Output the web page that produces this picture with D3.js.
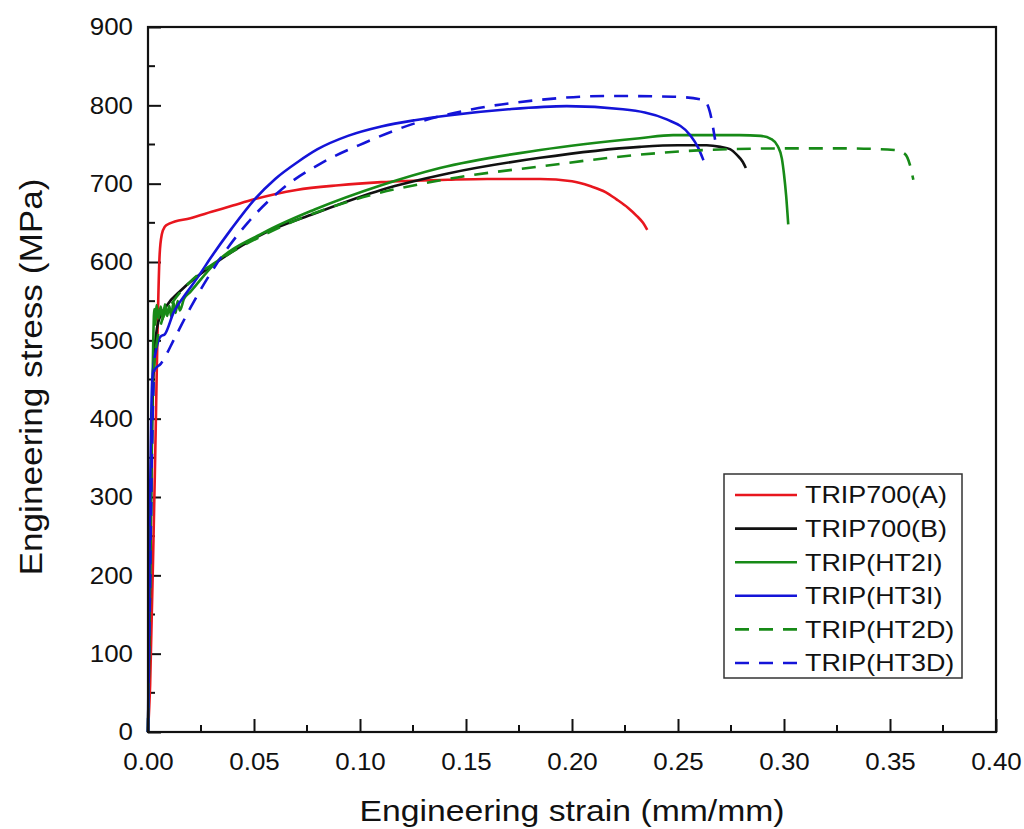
<!DOCTYPE html>
<html>
<head>
<meta charset="utf-8">
<script src="https://cdn.jsdelivr.net/npm/d3@7"></script>
<style>
  body { margin: 0; background: #fff; }
  text { font-family: "Liberation Sans", Arial, sans-serif; fill: #111; }
</style>
</head>
<body>
<div id="chart"></div>
<script>
// series names and values: [strain, stress MPa]
let seriesNames = ["TRIP700(A)", "TRIP700(B)", "TRIP(HT2I)", "TRIP(HT3I)", "TRIP(HT2D)", "TRIP(HT3D)"];

let trip700A = [[0,0],[0.001,60],[0.003,300],[0.0055,610],[0.0065,635],[0.0079,645],[0.01,649],[0.02,656],
  [0.03,664],[0.04,672],[0.05,680],[0.07,692],[0.09,698],[0.11,702],[0.1415,705],[0.16,706],[0.185,706],
  [0.2,703],[0.2085,697],[0.216,689],[0.221,680],[0.2265,669],[0.2305,659],[0.2335,650],[0.2355,641]];

let trip700B = [[0,0],[0.001,200],[0.002,400],[0.003,480],[0.0047,522],[0.009,545],[0.0156,564],[0.0315,598],
  [0.055,637],[0.0786,662],[0.11,692],[0.1415,713],[0.185,733],[0.232,747],[0.25,749],[0.2635,749],
  [0.27,747],[0.2745,744],[0.278,736],[0.2805,728],[0.282,720]];

let tripHT2I = [[0,0],[0.001,200],[0.002,420],[0.003,540],[0.0035,520],[0.004,545],[0.005,528],[0.006,543],
  [0.007,527],[0.008,546],[0.009,531],[0.010,544],[0.011,530],[0.012,549],[0.013,535],[0.014,550],
  [0.015,538],[0.017,553],[0.02,562],[0.0315,598],[0.055,638],[0.0786,667],[0.11,698],[0.1377,720],
  [0.185,743],[0.232,758],[0.2477,762],[0.279,762],[0.289,761],[0.294,757],[0.297,748],[0.299,732],
  [0.300,712],[0.301,685],[0.302,648]];

let tripHT3I = [[0,0],[0.001,300],[0.002,450],[0.004,490],[0.006,505],[0.008,508],[0.012,535],[0.018,560],
  [0.0236,581],[0.03,607],[0.039,641],[0.0503,680],[0.06,706],[0.0708,728],[0.08,744],[0.0943,761],
  [0.11,773],[0.1258,781],[0.1415,787],[0.17,795],[0.1975,799],[0.224,795],[0.2447,782],[0.2557,762],
  [0.2595,746],[0.262,730]];

let tripHT2D = [[0,0],[0.001,180],[0.002,380],[0.003,470],[0.006,520],[0.012,550],[0.02,575],[0.035,605],
  [0.055,635],[0.0943,677],[0.1415,706],[0.185,722],[0.232,737],[0.2635,743],[0.30,745],[0.33,745],
  [0.352,743],[0.357,738],[0.3594,724],[0.361,705]];

let tripHT3D = [[0,0],[0.001,200],[0.002,380],[0.003,462],[0.006,470],[0.0126,503],[0.0203,543],[0.0315,594],
  [0.047,650],[0.0627,692],[0.0816,726],[0.102,752],[0.1258,777],[0.153,795],[0.185,807],[0.2164,812],
  [0.2477,811],[0.262,807],[0.265,792],[0.2675,756]];

let seriesData = [trip700A, trip700B, tripHT2I, tripHT3I, tripHT2D, tripHT3D];
let seriesColors = ["#e8161e", "#111111", "#178a17", "#1414d8", "#178a17", "#1414d8"];
let seriesDashed = [false, false, false, false, true, true];

let xTicks = [0, 0.05, 0.10, 0.15, 0.20, 0.25, 0.30, 0.35, 0.40];
let yTicks = [0, 100, 200, 300, 400, 500, 600, 700, 800, 900];

let W = 1024, H = 829;
let margin = {top: 27, right: 28, bottom: 97, left: 148};
let width = W - margin.left - margin.right,
    height = H - margin.top - margin.bottom;

let svg = d3.select("#chart").append("svg")
  .attr("width", W).attr("height", H);
let g = svg.append("g")
  .attr("transform", "translate(" + margin.left + "," + margin.top + ")");

let x = d3.scaleLinear().domain([0, 0.40]).range([0, width]);
let y = d3.scaleLinear().domain([0, 900]).range([height, 0]);

// stretch text horizontally a bit, the source picture is slightly wide
function stretch(sel, k) {
  sel.each(function() {
    let len = this.getComputedTextLength();
    d3.select(this).attr("textLength", len * k).attr("lengthAdjust", "spacingAndGlyphs");
  });
}

// minor ticks
let xMinor = d3.range(0.025, 0.40, 0.05);
let yMinor = d3.range(50, 900, 100);

g.selectAll(".xminor").data(xMinor).enter().append("line")
  .attr("x1", d => x(d)).attr("x2", d => x(d))
  .attr("y1", height).attr("y2", height - 7)
  .attr("stroke", "#111").attr("stroke-width", 2);
g.selectAll(".yminor").data(yMinor).enter().append("line")
  .attr("x1", 0).attr("x2", 7)
  .attr("y1", d => y(d)).attr("y2", d => y(d))
  .attr("stroke", "#111").attr("stroke-width", 2);

// X axis
let xAxis = g.append("g")
  .attr("transform", "translate(0," + height + ")")
  .call(d3.axisBottom(x).tickValues(xTicks).tickFormat(d3.format(".2f"))
    .tickSizeInner(-13).tickSizeOuter(0).tickPadding(21));
xAxis.select(".domain").remove();
xAxis.selectAll(".tick line").attr("stroke", "#111").attr("stroke-width", 2);
xAxis.selectAll(".tick text").attr("font-size", 24).attr("fill", "#111");

// Y axis
let yAxis = g.append("g")
  .call(d3.axisLeft(y).tickValues(yTicks)
    .tickSizeInner(-13).tickSizeOuter(0).tickPadding(15));
yAxis.select(".domain").remove();
yAxis.selectAll(".tick line").attr("stroke", "#111").attr("stroke-width", 2);
yAxis.selectAll(".tick text").attr("font-size", 24).attr("fill", "#111");

// curves
let line = d3.line().curve(d3.curveMonotoneX).x(d => x(d[0])).y(d => y(d[1]));
seriesData.forEach(function(s, i) {
  g.append("path")
    .datum(s)
    .attr("fill", "none")
    .attr("stroke", seriesColors[i])
    .attr("stroke-width", 2.6)
    .attr("stroke-linejoin", "round")
    .attr("stroke-dasharray", seriesDashed[i] ? "14,10" : null)
    .attr("d", line);
});

// frame
g.append("rect")
  .attr("width", width).attr("height", height)
  .attr("fill", "none").attr("stroke", "#111").attr("stroke-width", 2.2);

stretch(xAxis.selectAll(".tick text"), 1.08);
stretch(yAxis.selectAll(".tick text"), 1.08);

// axis titles
let xt = svg.append("text")
  .attr("x", margin.left + width / 2).attr("y", 821)
  .attr("text-anchor", "middle").attr("font-size", 29)
  .text("Engineering strain (mm/mm)");
xt.attr("textLength", 425).attr("lengthAdjust", "spacingAndGlyphs");

let yt = svg.append("text")
  .attr("transform", "translate(42,377) rotate(-90)")
  .attr("text-anchor", "middle").attr("font-size", 31)
  .text("Engineering stress (MPa)");
yt.attr("textLength", 397).attr("lengthAdjust", "spacingAndGlyphs");

// legend
let lg = svg.append("g").attr("transform", "translate(724,474)");
lg.append("rect").attr("width", 238).attr("height", 204)
  .attr("fill", "#fff").attr("stroke", "#333").attr("stroke-width", 1.5);
let rows = lg.selectAll(".row").data(seriesNames).enter().append("g")
  .attr("transform", (d, i) => "translate(0," + (21 + i * 33.6) + ")");
rows.append("line")
  .attr("x1", 11).attr("x2", 73).attr("y1", 0).attr("y2", 0)
  .attr("stroke", (d, i) => seriesColors[i]).attr("stroke-width", 2.6)
  .attr("stroke-dasharray", (d, i) => seriesDashed[i] ? "14,10" : null);
let lt = rows.append("text")
  .attr("x", 81).attr("dy", "0.35em").attr("font-size", 24)
  .text(d => d);
stretch(lt, 1.12);
</script>
</body>
</html>
